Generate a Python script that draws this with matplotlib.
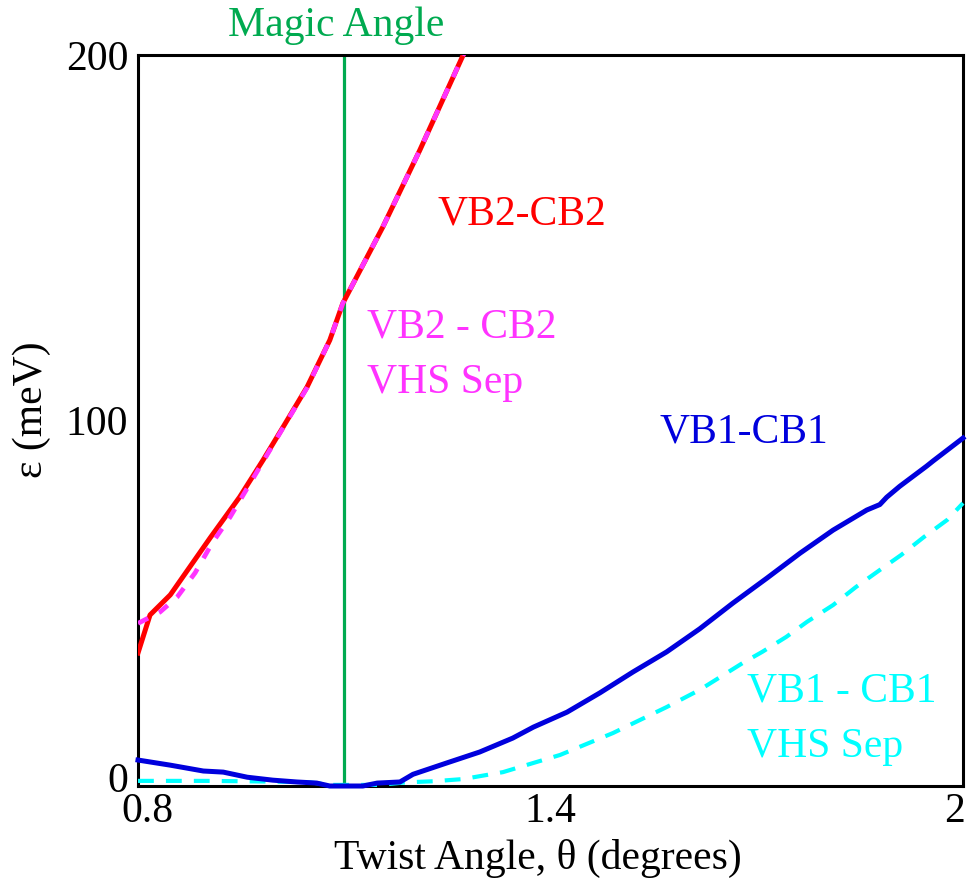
import matplotlib
matplotlib.use("Agg")
import matplotlib.pyplot as plt
import matplotlib.transforms as mtransforms

plt.rcParams['font.family'] = ['Liberation Serif', 'DejaVu Serif']

# VB2-CB2 band separation (solid red) and its VHS separation (dashed magenta)
theta_vb2 = [0.800, 0.8175, 0.847, 0.905, 0.948, 0.982, 1.011, 1.046, 1.079,
             1.098, 1.156, 1.210, 1.273, 1.300]
eps_vb2 = [36.4, 46.8, 52.3, 67.9, 79.1, 89.2, 98.2, 109.2, 122.0,
           132.1, 152.9, 174.0, 200.0, 209.0]

theta_vhs2 = [0.800, 0.832, 0.857, 0.883, 0.908, 0.934, 0.982, 1.011, 1.046,
              1.079, 1.098, 1.156, 1.210, 1.273, 1.300]
eps_vhs2 = [44.5, 47.6, 51.7, 58.3, 66.5, 73.6, 88.8, 98.0, 109.0,
            122.0, 132.1, 152.9, 174.0, 200.0, 209.0]

# VB1-CB1 band separation (solid blue) and its VHS separation (dashed cyan)
theta_vb1 = [0.800, 0.847, 0.895, 0.924, 0.959, 0.996, 1.031, 1.060, 1.079,
             1.127, 1.148, 1.181, 1.200, 1.249, 1.297, 1.345, 1.375, 1.424,
             1.472, 1.520, 1.569, 1.617, 1.665, 1.715, 1.763, 1.811, 1.860,
             1.879, 1.889, 1.908, 1.947, 1.957, 2.000]
eps_vb1 = [7.1, 5.7, 4.1, 3.8, 2.4, 1.6, 1.1, 0.8, 0.0,
           0.0, 0.8, 1.1, 3.2, 6.3, 9.3, 13.1, 16.1, 20.2,
           25.5, 31.2, 36.7, 43.0, 50.0, 56.9, 63.7, 70.0, 75.5,
           77.0, 79.0, 82.0, 87.5, 89.0, 95.2]

theta_vhs1 = [0.800, 0.850, 0.900, 0.950, 1.000, 1.050, 1.080, 1.150, 1.190,
              1.230, 1.273, 1.331, 1.375, 1.414, 1.491, 1.569, 1.617, 1.680,
              1.708, 1.743, 1.773, 1.811, 1.844, 1.879, 1.910, 1.943, 1.977,
              2.000]
eps_vhs1 = [1.4, 1.4, 1.4, 1.3, 1.2, 1.0, 0.3, 0.3, 1.0,
            1.3, 1.9, 3.8, 6.3, 8.5, 14.5, 21.6, 26.3, 33.7,
            36.7, 40.8, 44.9, 49.5, 54.4, 59.1, 63.2, 68.1, 72.8,
            77.4]

magic_angle = 1.10

x_ticks = [0.8, 1.4, 2.0]
x_tick_labels = ['0.8', '1.4', '2']
y_ticks = [0, 100, 200]
y_tick_labels = ['0', '100', '200']

RED = '#FF0000'
MAGENTA = '#FF33FF'
BLUE = '#0000DD'
CYAN = '#00FFFF'
GREEN = '#00AA50'

fig = plt.figure(figsize=(9.7, 8.86), dpi=100)
ax = fig.add_axes([138 / 970, 1 - 786 / 886, 825 / 970, 731 / 886])

ax.axvline(magic_angle, color=GREEN, lw=2.3, zorder=2)

ax.plot(theta_vb2, eps_vb2, color=RED, lw=3.6, zorder=3)
ax.plot(theta_vhs2, eps_vhs2, color=MAGENTA, lw=3.4, dashes=(2.4, 2.6), zorder=4)
ax.plot(theta_vb1, eps_vb1, color=BLUE, lw=3.6, zorder=4, clip_on=False)
ax.plot(theta_vhs1, eps_vhs1, color=CYAN, lw=3.0, dashes=(3.8, 2.9), zorder=3,
        clip_on=False)

ax.set_xlim(0.8, 2.0)
ax.set_ylim(0, 200)

ax.set_xticks(x_ticks)
ax.set_xticklabels(x_tick_labels)
ax.set_yticks(y_ticks)
ax.set_yticklabels(y_tick_labels)
ax.tick_params(axis='both', length=0, labelsize=30)
ax.tick_params(axis='x', pad=5)
ax.tick_params(axis='y', pad=7)

# keep the end labels inside the frame a little
xlabels = ax.get_xticklabels()
xlabels[0].set_transform(xlabels[0].get_transform() +
                         mtransforms.ScaledTranslation(0.09, 0, fig.dpi_scale_trans))
xlabels[-1].set_transform(xlabels[-1].get_transform() +
                          mtransforms.ScaledTranslation(-0.08, 0, fig.dpi_scale_trans))
ylabels = ax.get_yticklabels()
ylabels[0].set_transform(ylabels[0].get_transform() +
                         mtransforms.ScaledTranslation(0, 0.09, fig.dpi_scale_trans))

for side in ax.spines.values():
    side.set_linewidth(2.2)
    side.set_color('black')

fig.text(538 / 970, 1 - 858 / 886, 'Twist Angle, θ (degrees)', fontsize=30,
         ha='center', va='center')
fig.text(32 / 970, 1 - 410 / 886, 'ε (meV)', fontsize=30, rotation=90,
         ha='center', va='center')

ax.text(1.089, 208, 'Magic Angle', color=GREEN, fontsize=30, ha='center',
        va='center', clip_on=False)
ax.text(1.236, 153.5, 'VB2-CB2', color=RED, fontsize=30, va='baseline')
ax.text(1.133, 122.6, 'VB2 - CB2', color=MAGENTA, fontsize=30, va='baseline')
ax.text(1.133, 107.5, 'VHS Sep', color=MAGENTA, fontsize=30, va='baseline')
ax.text(1.559, 94.1, 'VB1-CB1', color=BLUE, fontsize=30, va='baseline')
ax.text(1.686, 23.0, 'VB1 - CB1', color=CYAN, fontsize=30, va='baseline')
ax.text(1.686, 7.9, 'VHS Sep', color=CYAN, fontsize=30, va='baseline')

fig.savefig('out.png', dpi=100)
